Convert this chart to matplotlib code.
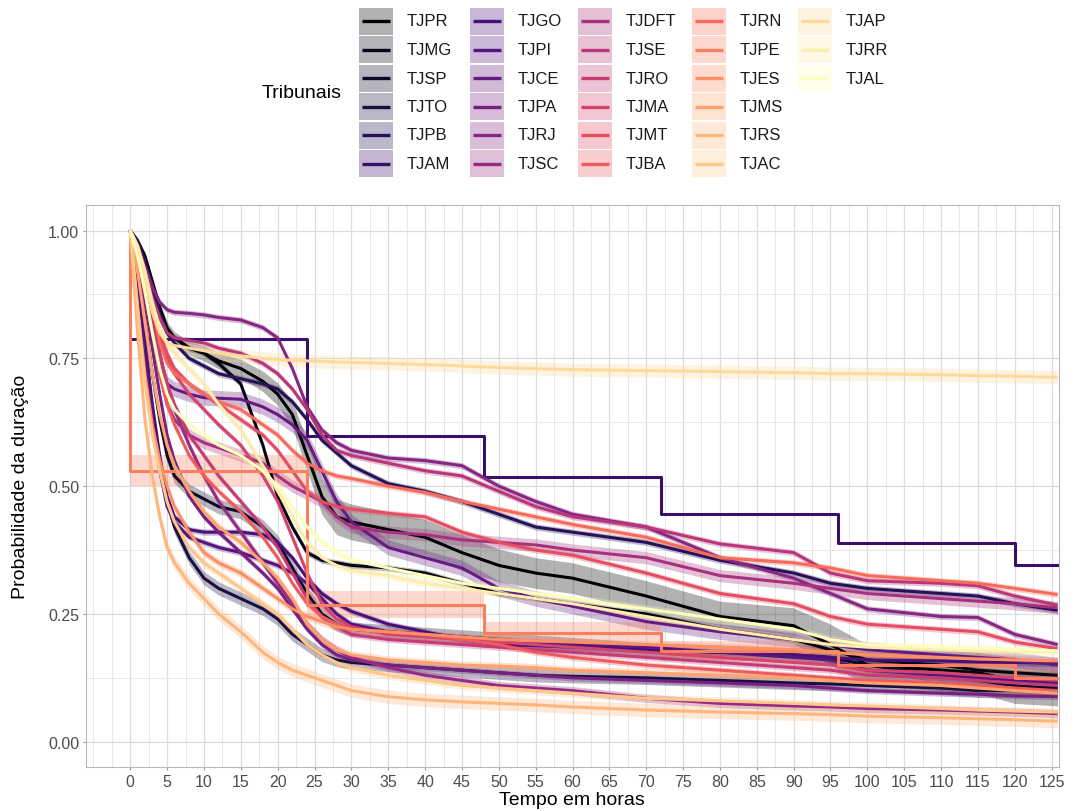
import numpy as np
import matplotlib
matplotlib.use("Agg")
import matplotlib.pyplot as plt
from matplotlib.patches import Rectangle
from matplotlib.ticker import FixedLocator

plt.rcParams["font.family"] = ["Liberation Sans", "DejaVu Sans"]

# ---------- dados ----------
tribunais = [
    "TJPR", "TJMG", "TJSP", "TJTO", "TJPB", "TJAM",
    "TJGO", "TJPI", "TJCE", "TJPA", "TJRJ", "TJSC",
    "TJDFT", "TJSE", "TJRO", "TJMA", "TJMT", "TJBA",
    "TJRN", "TJPE", "TJES", "TJMS", "TJRS", "TJAC",
    "TJAP", "TJRR", "TJAL",
]

tempo = [0, 1, 2, 3, 4, 5, 6, 8, 10, 12, 15, 18, 20, 22, 24, 26, 28, 30,
         35, 40, 45, 50, 55, 60, 70, 80, 90, 95, 100, 110, 115, 120, 125.8]

# curvas suaves (probabilidade em cada ponto de "tempo")
sobrevivencia = {
    "TJPR": [1, .98, .95, .90, .85, .81, .79, .77, .76, .745, .73, .705, .68, .64, .56, .48, .44,
             .43, .415, .40, .37, .345, .33, .32, .285, .245, .227, .19, .15, .14, .135, .12, .115],
    "TJMG": [1, .97, .93, .88, .83, .80, .79, .77, .76, .74, .70, .58, .48, .42, .37, .355, .35,
             .345, .34, .33, .31, .29, .28, .27, .25, .22, .20, .18, .16, .15, .14, .135, .13],
    "TJSP": [1, .92, .82, .72, .63, .56, .52, .49, .475, .46, .45, .42, .39, .34, .29, .25, .23,
             .22, .215, .21, .205, .20, .195, .19, .18, .175, .17, .165, .15, .13, .12, .11, .105],
    "TJTO": [1, .90, .78, .65, .55, .47, .42, .36, .32, .30, .28, .26, .24, .21, .19, .17, .16,
             .155, .15, .145, .14, .135, .13, .128, .125, .12, .115, .113, .11, .105, .10, .10, .10],
    "TJPB": [1, .98, .94, .89, .84, .80, .78, .75, .735, .72, .71, .70, .69, .665, .63, .59, .565,
             .54, .505, .49, .47, .445, .42, .41, .39, .355, .33, .31, .30, .29, .285, .27, .257],
    "TJGO": [1, .90, .78, .66, .56, .48, .44, .415, .41, .41, .41, .405, .39, .36, .32, .29, .27,
             .255, .23, .215, .20, .19, .188, .185, .18, .175, .17, .165, .16, .158, .156, .155, .153],
    "TJPI": [1, .88, .75, .63, .53, .46, .43, .40, .39, .38, .37, .355, .345, .33, .31, .28, .25,
             .23, .215, .21, .205, .20, .195, .19, .185, .175, .165, .16, .14, .13, .125, .12, .115],
    "TJCE": [1, .95, .88, .80, .74, .70, .69, .68, .673, .672, .67, .655, .64, .62, .59, .53, .47,
             .43, .38, .36, .34, .30, .28, .265, .235, .215, .20, .19, .18, .17, .165, .16, .15],
    "TJPA": [1, .94, .86, .77, .68, .60, .55, .48, .44, .41, .37, .33, .30, .26, .22, .19, .17,
             .16, .15, .145, .14, .135, .13, .125, .12, .115, .11, .105, .10, .095, .093, .09, .088],
    "TJRJ": [1, .97, .93, .89, .86, .845, .84, .838, .835, .83, .825, .81, .79, .73, .655, .61, .585,
             .57, .555, .55, .54, .50, .47, .445, .42, .36, .32, .29, .26, .245, .243, .21, .19],
    "TJSC": [1, .96, .90, .83, .76, .70, .65, .58, .52, .47, .41, .35, .31, .27, .23, .20, .18,
             .165, .145, .13, .12, .11, .105, .10, .085, .075, .07, .068, .065, .062, .06, .058, .055],
    "TJDFT": [1, .95, .88, .80, .72, .66, .63, .60, .585, .575, .56, .545, .52, .50, .485, .47, .44,
              .42, .41, .405, .395, .39, .385, .375, .36, .325, .31, .30, .29, .28, .275, .27, .262],
    "TJSE": [1, .97, .92, .87, .83, .80, .79, .785, .78, .77, .76, .74, .72, .69, .65, .60, .57,
             .56, .545, .53, .52, .49, .46, .44, .42, .387, .37, .33, .315, .31, .305, .285, .267],
    "TJRO": [1, .96, .90, .83, .76, .70, .66, .60, .56, .52, .47, .42, .38, .33, .28, .245, .225,
             .21, .20, .195, .19, .185, .18, .175, .165, .155, .145, .14, .13, .125, .12, .115, .11],
    "TJMA": [1, .97, .92, .86, .80, .75, .72, .68, .65, .62, .58, .52, .47, .40, .33, .27, .24,
             .225, .21, .205, .20, .195, .19, .185, .175, .165, .155, .15, .14, .135, .13, .125, .12],
    "TJMT": [1, .97, .92, .86, .80, .76, .73, .70, .68, .66, .63, .60, .57, .53, .49, .47, .46,
             .455, .447, .44, .41, .39, .375, .365, .33, .29, .27, .245, .23, .22, .215, .195, .182],
    "TJBA": [1, .95, .88, .80, .72, .66, .62, .56, .52, .49, .45, .40, .36, .31, .27, .245, .23,
             .22, .215, .21, .20, .19, .175, .165, .15, .14, .13, .125, .12, .115, .11, .105, .10],
    "TJRN": [1, .97, .92, .85, .78, .74, .72, .70, .68, .665, .65, .62, .60, .57, .545, .53, .52,
             .515, .50, .488, .47, .455, .44, .425, .40, .36, .35, .34, .325, .315, .31, .30, .288],
    "TJES": [1, .85, .72, .62, .55, .50, .46, .41, .37, .35, .33, .30, .28, .26, .245, .235, .225,
             .22, .215, .21, .205, .20, .197, .195, .19, .185, .18, .175, .17, .165, .162, .16, .158],
    "TJMS": [1, .92, .82, .72, .64, .58, .54, .49, .45, .42, .39, .35, .32, .28, .23, .20, .18,
             .17, .16, .155, .15, .148, .145, .14, .135, .13, .125, .12, .115, .11, .105, .10, .095],
    "TJRS": [1, .80, .63, .52, .44, .38, .35, .31, .28, .25, .215, .175, .155, .14, .13, .12, .11,
             .10, .088, .082, .078, .075, .072, .068, .062, .058, .055, .053, .05, .047, .045, .043, .04],
    "TJAC": [1, .85, .70, .60, .53, .47, .43, .38, .35, .33, .30, .27, .25, .22, .19, .17, .155,
             .145, .13, .12, .11, .105, .10, .095, .085, .08, .075, .072, .07, .065, .062, .06, .058],
    "TJAP": [1, .96, .90, .84, .80, .78, .775, .77, .765, .76, .755, .75, .748, .746, .745, .744, .743,
             .742, .74, .738, .735, .732, .73, .728, .726, .724, .722, .72, .72, .718, .716, .715, .713],
    "TJRR": [1, .97, .92, .86, .81, .78, .76, .73, .70, .66, .61, .54, .49, .44, .39, .36, .345,
             .335, .325, .31, .30, .29, .28, .27, .245, .22, .20, .19, .185, .18, .178, .177, .176],
    "TJAL": [1, .95, .88, .80, .73, .68, .65, .62, .60, .58, .56, .53, .50, .46, .42, .39, .37,
             .355, .34, .325, .31, .30, .29, .28, .26, .24, .22, .20, .19, .185, .183, .18, .178],
}

# meia largura do intervalo de confiança
ic_meia = {
    "TJMG": .006, "TJSP": .014, "TJTO": .013, "TJPB": .006, "TJGO": .006, "TJPI": .006,
    "TJCE": .015, "TJPA": .006, "TJRJ": .006, "TJSC": .008, "TJDFT": .012, "TJSE": .006,
    "TJRO": .006, "TJMA": .006, "TJMT": .006, "TJBA": .006, "TJRN": .006, "TJES": .008,
    "TJMS": .008, "TJRS": .013, "TJAC": .008, "TJAP": .013, "TJRR": .008, "TJAL": .008,
}
ic_tjpr = [0, .005, .008, .01, .01, .012, .012, .013, .015, .016, .018, .02, .022, .025, .03, .035, .035,
           .035, .035, .035, .035, .032, .03, .03, .03, .03, .035, .04, .04, .04, .04, .045, .045]

# tribunais com poucos casos (curvas em degrau)
tempo_tjam = [0, 24, 48, 72, 96, 120, 125.8]
surv_tjam = [.787, .598, .518, .446, .389, .345, .345]
tempo_tjpe = [0, 0, 24, 48, 72, 96, 120, 125.8]
surv_tjpe = [1.0, .53, .268, .212, .178, .15, .125, .125]
ic_tjpe = [0, .03, .026, .022, .02, .02, .02, .02]

cores = plt.cm.magma(np.linspace(0, 1, len(tribunais)))
cor = dict(zip(tribunais, cores))

# ---------- figura ----------
W, H = 1074, 812
fig = plt.figure(figsize=(W / 100, H / 100), dpi=100)
ax = fig.add_axes([86 / W, 1 - 768.3 / H, (1059 - 86) / W, (768.3 - 206) / H])

LW = 2.2
t = np.array(tempo)
for nome in tribunais:
    c = cor[nome]
    if nome == "TJAM":
        ax.plot(tempo_tjam, surv_tjam, drawstyle="steps-post", color=c, lw=LW, zorder=3)
        continue
    if nome == "TJPE":
        y = np.array(surv_tjpe[1:])
        h = np.array(ic_tjpe[1:])
        ax.fill_between(tempo_tjpe[1:], y - h, np.minimum(y + h, 1), step="post",
                        color=c, alpha=0.3, lw=0, zorder=2)
        ax.plot(tempo_tjpe, surv_tjpe, drawstyle="steps-post", color=c, lw=LW, zorder=3)
        continue
    y = np.array(sobrevivencia[nome])
    h = np.array(ic_tjpr) if nome == "TJPR" else ic_meia[nome]
    ax.fill_between(t, y - h, np.minimum(y + h, 1), color=c, alpha=0.3, lw=0, zorder=2)
    ax.plot(t, y, color=c, lw=LW, zorder=3, solid_capstyle="butt")

ax.set_xlim(-6, 126)
ax.set_ylim(-0.05, 1.05)
ax.set_xticks(list(range(0, 126, 5)))
ax.xaxis.set_minor_locator(FixedLocator([-5 + 2.5 * k for k in range(52) if k % 2 == 1] + [-5]))
ax.set_yticks([0, .25, .5, .75, 1])
ax.set_yticklabels(["0.00", "0.25", "0.50", "0.75", "1.00"])
ax.yaxis.set_minor_locator(FixedLocator([.125, .375, .625, .875]))
ax.grid(which="major", color="#DCDCDC", lw=0.9)
ax.grid(which="minor", color="#E8E8E8", lw=0.7)
ax.set_axisbelow(True)
for s in ax.spines.values():
    s.set_color("#B8B8B8")
    s.set_linewidth(0.8)
ax.tick_params(which="major", length=2.5, width=0.8, color="#9A9A9A",
               labelsize=11.5, labelcolor="#4D4D4D", pad=2.5)
ax.tick_params(which="minor", length=0)

fig.text(572 / W, 1 - 801 / H, "Tempo em horas", ha="center", va="center", fontsize=14)
fig.text(21 / W, 1 - 487 / H, "Probabilidade da duração", ha="center", va="center",
         rotation=90, fontsize=14)

# ---------- legenda ----------
lg = fig.add_axes([0, 0, 1, 1])
lg.set_xlim(0, W)
lg.set_ylim(H, 0)
lg.axis("off")
lg.text(262, 94, "Tribunais", ha="left", va="center", fontsize=14)

col_x = [359, 470, 578, 692, 798]
for i, nome in enumerate(tribunais):
    col, lin = divmod(i, 6)
    x0 = col_x[col]
    yc = 22 + 28.5 * lin
    c = cor[nome]
    lg.add_patch(Rectangle((x0, yc - 13.5), 34, 27, facecolor=c, alpha=0.3, lw=0))
    lg.plot([x0 + 3, x0 + 31], [yc, yc], color=c, lw=2.4, solid_capstyle="butt")
    lg.text(x0 + 48, yc, nome, ha="left", va="center", fontsize=12, color="#1A1A1A")

fig.savefig("out.png", dpi=100)
